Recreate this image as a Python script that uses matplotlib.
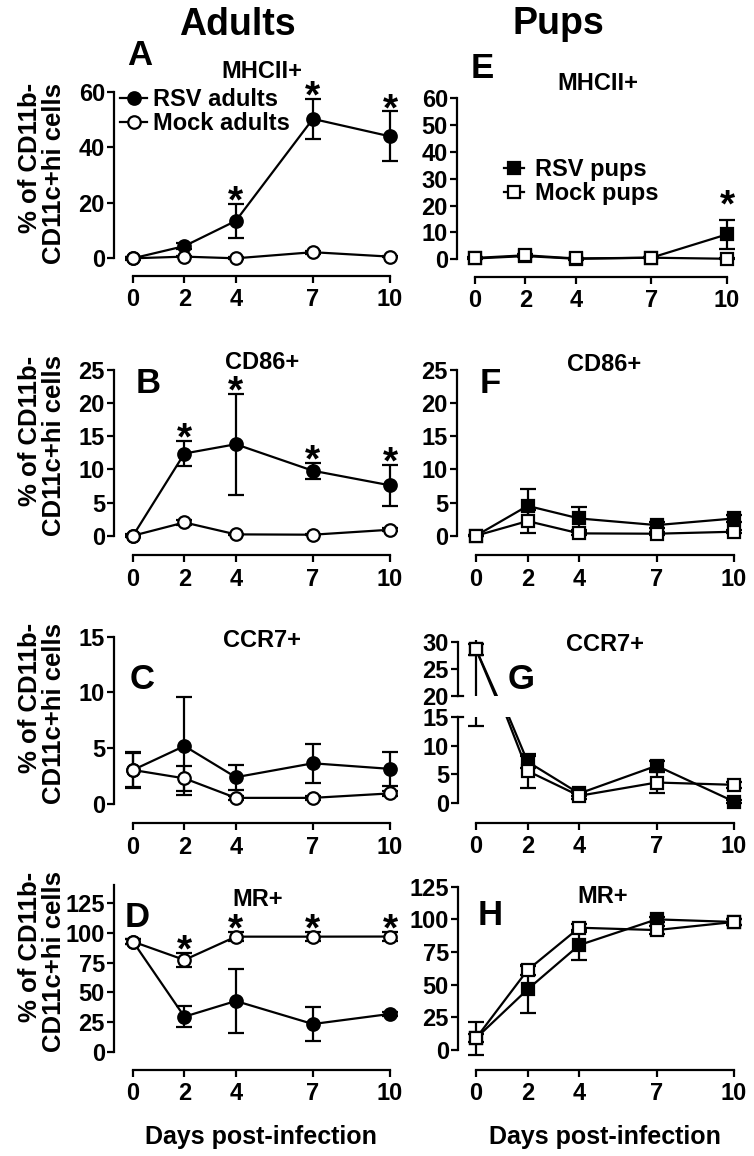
import matplotlib
matplotlib.use("Agg")
import matplotlib.pyplot as plt
from matplotlib.lines import Line2D

plt.rcParams['font.family'] = ['Liberation Sans', 'DejaVu Sans']
plt.rcParams['font.weight'] = 'bold'

W, H = 754, 1156

days = [0, 2, 4, 7, 10]

# adults (circles)
rsv_mhc_a = [0, 4.4, 13.5, 50.3, 44.0]
rsv_mhc_a_sem = [0.5, 1.0, 6.0, 7.3, 9.0]
mock_mhc_a = [0, 0.6, 0, 2.2, 0.6]
mock_mhc_a_sem = [0.3, 0.3, 0.3, 0.5, 0.3]

rsv_cd86_a = [0, 12.4, 13.8, 9.8, 7.6]
rsv_cd86_a_sem = [0.2, 1.9, 7.6, 1.2, 3.1]
mock_cd86_a = [0, 2.0, 0.2, 0.15, 0.9]
mock_cd86_a_sem = [0.1, 0.4, 0.1, 0.1, 0.2]

rsv_ccr7_a = [3.05, 5.2, 2.4, 3.65, 3.15]
rsv_ccr7_a_sem = [1.5, 4.4, 1.1, 1.75, 1.5]
mock_ccr7_a = [3.05, 2.3, 0.55, 0.55, 0.95]
mock_ccr7_a_sem = [1.6, 1.15, 0.2, 0.2, 0.2]

rsv_mr_a = [92.7, 29.5, 42.7, 23.3, 31.8]
rsv_mr_a_sem = [2, 9, 26.7, 14.3, 2]
mock_mr_a = [92.7, 77.3, 96.9, 96.9, 97.0]
mock_mr_a_sem = [2, 6, 4, 4, 4]

# pups (squares)
rsv_mhc_p = [0.3, 1.2, 0.2, 0.6, 9.3]
rsv_mhc_p_sem = [0.2, 0.5, 0.3, 0.3, 5.3]
mock_mhc_p = [0.5, 1.5, 0.3, 0.6, 0.2]
mock_mhc_p_sem = [0.2, 0.3, 0.2, 0.2, 0.2]

rsv_cd86_p = [0, 4.5, 2.6, 1.6, 2.6]
rsv_cd86_p_sem = [0.1, 2.6, 1.7, 0.4, 0.5]
mock_cd86_p = [0, 2.2, 0.35, 0.3, 0.6]
mock_cd86_p_sem = [0.1, 1.75, 0.2, 0.2, 0.2]

rsv_ccr7_p = [28.6, 7.2, 1.7, 6.5, 0.3]
rsv_ccr7_p_sem = [1, 1, 0.5, 0.8, 0.3]
mock_ccr7_p = [28.6, 5.6, 1.3, 3.6, 3.2]
mock_ccr7_p_sem = [15.2, 3.0, 0.5, 1.9, 0.5]

rsv_mr_p = [9, 46.4, 80.3, 100, 98]
rsv_mr_p_sem = [3, 17.8, 11.4, 2, 2]
mock_mr_p = [9, 61.2, 93.6, 91.8, 98]
mock_mr_p_sem = [12.7, 4, 3, 3, 2]

ylab = '% of CD11b-\nCD11c+hi cells'
xlab = 'Days post-infection'

TICK = 17
MS = 9

fig = plt.figure(figsize=(W / 100, H / 100), dpi=100)


def px_ax(spine_x, x0, x10, xaxis_y, y0_px, yt_px, yt_val, top_val=None, y0_val=0):
    # place axes from pixel positions
    sx = (x10 - x0) / 10
    sy = (y0_px - yt_px) / (yt_val - y0_val)
    xl = (spine_x - x0) / sx
    xr = 10.7
    yb = y0_val - (xaxis_y - y0_px) / sy
    if top_val is None:
        top_val = yt_val
    top_px = y0_px - (top_val - y0_val) * sy
    right_px = x0 + xr * sx
    ax = fig.add_axes([spine_x / W, 1 - xaxis_y / H,
                       (right_px - spine_x) / W, (xaxis_y - top_px) / H])
    ax.set_xlim(xl, xr)
    ax.set_ylim(yb, top_val)
    ax.patch.set_visible(False)
    for s in ['top', 'right']:
        ax.spines[s].set_visible(False)
    for s in ['left', 'bottom']:
        ax.spines[s].set_linewidth(1.6)
    ax.spines['bottom'].set_bounds(0, 10)
    ax.set_xticks(days)
    ax.tick_params(direction='out', length=5, width=1.6, labelsize=TICK)
    ax.tick_params(axis='y', pad=1.5)
    ax.tick_params(axis='x', pad=4)
    return ax


def series(ax, y, e, filled, marker, clip=False):
    c = ax.errorbar(days, y, yerr=e, fmt='-', marker=marker, color='k',
                    mfc='k' if filled else 'white', mec='k', ms=MS, mew=1.6,
                    lw=1.6, elinewidth=1.6, capsize=6, capthick=1.6,
                    zorder=3 if filled else 4)
    for a in c.get_children():
        a.set_clip_on(clip)


def stars(ax, y, e, which, off=1):
    for i, d in enumerate(days):
        if d in which:
            ax.annotate('*', xy=(d, y[i] + e[i]), xytext=(0, off),
                        textcoords='offset points', ha='center', va='center',
                        fontsize=28, annotation_clip=False)


def ftext(x, y, s, size, **kw):
    fig.text(x / W, 1 - y / H, s, fontsize=size, ha=kw.pop('ha', 'center'),
             va=kw.pop('va', 'baseline'), **kw)


def handles(marker):
    return [Line2D([], [], color='k', marker=marker, mfc='k', mec='k', ms=MS, mew=1.6, lw=1.6),
            Line2D([], [], color='k', marker=marker, mfc='white', mec='k', ms=MS, mew=1.6, lw=1.6)]


# A
ax = px_ax(114, 133, 390, 276, 258.3, 92, 60)
ax.spines['left'].set_bounds(0, 60)
ax.set_yticks([0, 20, 40, 60])
series(ax, rsv_mhc_a, rsv_mhc_a_sem, True, 'o')
series(ax, mock_mhc_a, mock_mhc_a_sem, False, 'o')
stars(ax, rsv_mhc_a, rsv_mhc_a_sem, [4, 7, 10])
fig.legend(handles('o'), ['RSV adults', 'Mock adults'], loc='upper left',
           bbox_to_anchor=(120 / W, 1 - 88 / H), frameon=False, fontsize=17,
           handlelength=1.15, handletextpad=0.25, labelspacing=0.05,
           borderpad=0, borderaxespad=0)

# B
ax = px_ax(114, 133, 390, 555, 535.7, 370, 25)
ax.spines['left'].set_bounds(0, 25)
ax.set_yticks([0, 5, 10, 15, 20, 25])
series(ax, rsv_cd86_a, rsv_cd86_a_sem, True, 'o')
series(ax, mock_cd86_a, mock_cd86_a_sem, False, 'o')
stars(ax, rsv_cd86_a, rsv_cd86_a_sem, [2, 4, 7, 10])

# C
ax = px_ax(114, 133, 390, 823.3, 804, 636.7, 15)
ax.spines['left'].set_bounds(0, 15)
ax.set_yticks([0, 5, 10, 15])
series(ax, rsv_ccr7_a, rsv_ccr7_a_sem, True, 'o')
series(ax, mock_ccr7_a, mock_ccr7_a_sem, False, 'o')

# D
ax = px_ax(114, 133, 390, 1070, 1051.7, 903.3, 125, top_val=140)
ax.spines['left'].set_bounds(0, 140)
ax.set_yticks([0, 25, 50, 75, 100, 125])
series(ax, rsv_mr_a, rsv_mr_a_sem, True, 'o')
series(ax, mock_mr_a, mock_mr_a_sem, False, 'o')
stars(ax, mock_mr_a, mock_mr_a_sem, [2, 4, 7, 10])

# E
ax = px_ax(457, 475, 727, 276.7, 259.3, 98.3, 60)
ax.spines['left'].set_bounds(0, 60)
ax.set_yticks(range(0, 61, 10))
series(ax, rsv_mhc_p, rsv_mhc_p_sem, True, 's')
series(ax, mock_mhc_p, mock_mhc_p_sem, False, 's')
stars(ax, rsv_mhc_p, rsv_mhc_p_sem, [10], off=10)
fig.legend(handles('s'), ['RSV pups', 'Mock pups'], loc='upper left',
           bbox_to_anchor=(504 / W, 1 - 158 / H), frameon=False, fontsize=17,
           handlelength=0.85, handletextpad=0.45, labelspacing=0.05,
           borderpad=0, borderaxespad=0)

# F
ax = px_ax(457, 476, 734, 555, 535.7, 370, 25)
ax.spines['left'].set_bounds(0, 25)
ax.set_yticks([0, 5, 10, 15, 20, 25])
series(ax, rsv_cd86_p, rsv_cd86_p_sem, True, 's')
series(ax, mock_cd86_p, mock_cd86_p_sem, False, 's')

# G - broken y axis, lower part 0-15, upper part 20-30
ax = px_ax(458, 476, 734, 822.7, 803.3, 716.7, 15)
ax.spines['left'].set_bounds(0, 15)
ax.set_yticks([0, 5, 10, 15])
series(ax, rsv_ccr7_p, rsv_ccr7_p_sem, True, 's', clip=True)
series(ax, mock_ccr7_p, mock_ccr7_p_sem, False, 's', clip=True)
ax.plot([0, 0.018], [15, 15], color='k', lw=1.6, transform=ax.get_yaxis_transform(), clip_on=False)
xl = ax.get_xlim()

sy = (695.7 - 641.7) / 10
top_px = 641.7 - 0.4 * sy
axu = fig.add_axes([458 / W, 1 - 695.7 / H, ax.get_position().width, (695.7 - top_px) / H])
axu.set_xlim(xl)
axu.set_ylim(20, 30.4)
axu.patch.set_visible(False)
for s in ['top', 'right', 'bottom']:
    axu.spines[s].set_visible(False)
axu.spines['left'].set_linewidth(1.6)
axu.spines['left'].set_bounds(20, 30)
axu.set_xticks([])
axu.set_yticks([20, 25, 30])
axu.tick_params(direction='out', length=5, width=1.6, labelsize=TICK, pad=1.5)
series(axu, rsv_ccr7_p, rsv_ccr7_p_sem, True, 's', clip=True)
series(axu, mock_ccr7_p, mock_ccr7_p_sem, False, 's', clip=True)
axu.plot([0, 0.018], [20, 20], color='k', lw=1.6, transform=axu.get_yaxis_transform(), clip_on=False)

# H
ax = px_ax(458, 476, 734, 1070, 1050, 886.7, 125)
ax.spines['left'].set_bounds(0, 125)
ax.set_yticks([0, 25, 50, 75, 100, 125])
series(ax, rsv_mr_p, rsv_mr_p_sem, True, 's')
series(ax, mock_mr_p, mock_mr_p_sem, False, 's')

# texts
ftext(237, 35, 'Adults', 27)
ftext(558, 34, 'Pups', 27)
for s, x, y in [('A', 140, 65), ('B', 148, 393), ('C', 142, 689), ('D', 137, 927),
                ('E', 482, 78), ('F', 490, 393), ('G', 521, 689), ('H', 490, 925)]:
    ftext(x, y, s, 25)
for s, x, y in [('MHCII+', 262, 78), ('CD86+', 262, 369), ('CCR7+', 262, 647), ('MR+', 258, 906),
                ('MHCII+', 598, 90), ('CD86+', 604, 371), ('CCR7+', 605, 651), ('MR+', 603, 903)]:
    ftext(x, y, s, 17)
for y in [173, 446, 713, 962]:
    ftext(42, y, ylab, 18.5, va='center', rotation=90, multialignment='right', linespacing=1.0)
ftext(261, 1144, xlab, 18)
ftext(605, 1144, xlab, 18)

fig.savefig('out.png', dpi=100)
